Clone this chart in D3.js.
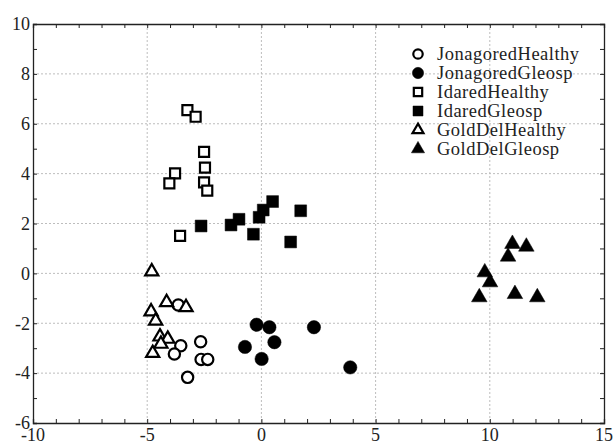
<!DOCTYPE html>
<html>
<head>
<meta charset="utf-8">
<script src="https://cdn.jsdelivr.net/npm/d3@7"></script>
<style>
  html, body { margin: 0; padding: 0; background: #fff; }
  svg { display: block; }
  text { font-family: "Liberation Serif", "DejaVu Serif", serif; fill: #222; }
</style>
</head>
<body>
<script>
// ---- data ----
const seriesNames = ["JonagoredHealthy", "JonagoredGleosp", "IdaredHealthy", "IdaredGleosp", "GoldDelHealthy", "GoldDelGleosp"];

const jonagoredHealthyX = [-3.64, -3.53, -3.81, -2.66, -2.64, -2.35, -3.23];
const jonagoredHealthyY = [-1.27, -2.90, -3.23, -2.74, -3.45, -3.45, -4.17];

const jonagoredGleospX = [-0.21, 0.35, 2.30, 0.57, -0.72, 0.01, 3.89];
const jonagoredGleospY = [-2.06, -2.16, -2.16, -2.76, -2.95, -3.43, -3.77];

const idaredHealthyX = [-3.24, -2.88, -2.51, -2.47, -3.78, -4.03, -2.51, -2.37, -3.56];
const idaredHealthyY = [6.55, 6.28, 4.87, 4.24, 4.01, 3.61, 3.65, 3.32, 1.50];

const idaredGleospX = [-2.64, -1.33, -0.98, -0.35, -0.10, 0.08, 0.49, 1.72, 1.28];
const idaredGleospY = [1.90, 1.94, 2.17, 1.57, 2.25, 2.54, 2.88, 2.51, 1.26];

const goldDelHealthyX = [-4.80, -4.15, -3.30, -4.83, -4.63, -4.44, -4.10, -4.40, -4.76];
const goldDelHealthyY = [0.07, -1.16, -1.36, -1.53, -1.90, -2.54, -2.63, -2.83, -3.20];

const goldDelGleospX = [10.99, 11.60, 10.80, 9.78, 10.01, 11.10, 9.54, 12.08];
const goldDelGleospY = [1.18, 1.07, 0.67, 0.04, -0.36, -0.83, -0.96, -0.96];

const xTicks = [-10, -5, 0, 5, 10, 15];
const yTicks = [-6, -4, -2, 0, 2, 4, 6, 8, 10];

// ---- layout ----
const W = 614, H = 441;
const m = { left: 33, right: 10, top: 24, bottom: 18 };
const shapes = [
  { type: d3.symbolCircle, fill: false },
  { type: d3.symbolCircle, fill: true },
  { type: d3.symbolSquare, fill: false },
  { type: d3.symbolSquare, fill: true },
  { type: d3.symbolTriangle, fill: false },
  { type: d3.symbolTriangle, fill: true }
];
const xs = [jonagoredHealthyX, jonagoredGleospX, idaredHealthyX, idaredGleospX, goldDelHealthyX, goldDelGleospX];
const ys = [jonagoredHealthyY, jonagoredGleospY, idaredHealthyY, idaredGleospY, goldDelHealthyY, goldDelGleospY];

const series = seriesNames.map((name, i) => ({
  name, shape: shapes[i],
  points: xs[i].map((x, j) => ({ x, y: ys[i][j] }))
}));

const svg = d3.select("body").append("svg").attr("width", W).attr("height", H);

const x = d3.scaleLinear().domain([-10, 15]).range([m.left, W - m.right]);
const y = d3.scaleLinear().domain([-6, 10]).range([H - m.bottom, m.top]);

// gridlines
const g = svg.append("g");
g.selectAll(".gx").data(xTicks.filter(t => t > -10 && t < 15)).enter().append("line")
  .attr("x1", d => x(d)).attr("x2", d => x(d))
  .attr("y1", y(10)).attr("y2", y(-6))
  .attr("stroke", "#bdbdbd").attr("stroke-width", 1).attr("stroke-dasharray", "2,2");
g.selectAll(".gy").data(yTicks.filter(t => t > -6 && t < 10)).enter().append("line")
  .attr("y1", d => y(d)).attr("y2", d => y(d))
  .attr("x1", x(-10)).attr("x2", x(15))
  .attr("stroke", "#bdbdbd").attr("stroke-width", 1).attr("stroke-dasharray", "2,2");

// axes with inward ticks on all four sides
const minorX = d3.range(-10, 16, 1), minorY = d3.range(-6, 11, 1);
const tickLen = 4;
const axB = svg.append("g").attr("transform", `translate(0,${y(-6)})`)
  .call(d3.axisBottom(x).tickValues(minorX).tickSize(-tickLen).tickFormat(""));
const axT = svg.append("g").attr("transform", `translate(0,${y(10)})`)
  .call(d3.axisTop(x).tickValues(minorX).tickSize(-tickLen).tickFormat(""));
const axL = svg.append("g").attr("transform", `translate(${x(-10)},0)`)
  .call(d3.axisLeft(y).tickValues(minorY).tickSize(-tickLen).tickFormat(""));
const axR = svg.append("g").attr("transform", `translate(${x(15)},0)`)
  .call(d3.axisRight(y).tickValues(minorY).tickSize(-tickLen).tickFormat(""));
[axB, axT, axL, axR].forEach(a => {
  a.selectAll("path").attr("stroke", "#222").attr("stroke-width", 1.3);
  a.selectAll("line").attr("stroke", "#222");
});

// tick labels
svg.append("g").selectAll("text").data(xTicks).enter().append("text")
  .attr("x", d => x(d)).attr("y", 441)
  .attr("text-anchor", "middle").attr("font-size", 18)
  .text(d => d);
svg.append("g").selectAll("text").data(yTicks).enter().append("text")
  .attr("x", 30).attr("y", d => y(d)).attr("dy", "0.35em")
  .attr("text-anchor", "end").attr("font-size", 18)
  .text(d => d);

// points
function symPath(shape, big) {
  const s = shape.fill ? (big ? 140 : 100) : (big ? 100 : 70);
  const triScale = shape.type === d3.symbolTriangle ? 0.75 : 1;
  return d3.symbol().type(shape.type).size(s * triScale)();
}
series.forEach(s => {
  svg.append("g").selectAll("path").data(s.points).enter().append("path")
    .attr("transform", d => `translate(${x(d.x)},${y(d.y)})`)
    .attr("d", symPath(s.shape, true))
    .attr("fill", s.shape.fill ? "#000" : "#fff")
    .attr("stroke", "#000")
    .attr("stroke-width", s.shape.fill ? 0.5 : 2.2);
});

// legend
const leg = svg.append("g").attr("transform", "translate(418,54)");
series.forEach((s, i) => {
  const row = leg.append("g").attr("transform", `translate(0,${i * 19})`);
  row.append("path").attr("d", symPath(s.shape, false))
    .attr("fill", s.shape.fill ? "#000" : "#fff")
    .attr("stroke", "#000").attr("stroke-width", s.shape.fill ? 0.5 : 2.2);
  row.append("text").attr("x", 19).attr("y", 0).attr("dy", "0.33em")
    .attr("font-size", 18.5).attr("letter-spacing", 0.5).text(s.name);
});
</script>
</body>
</html>
